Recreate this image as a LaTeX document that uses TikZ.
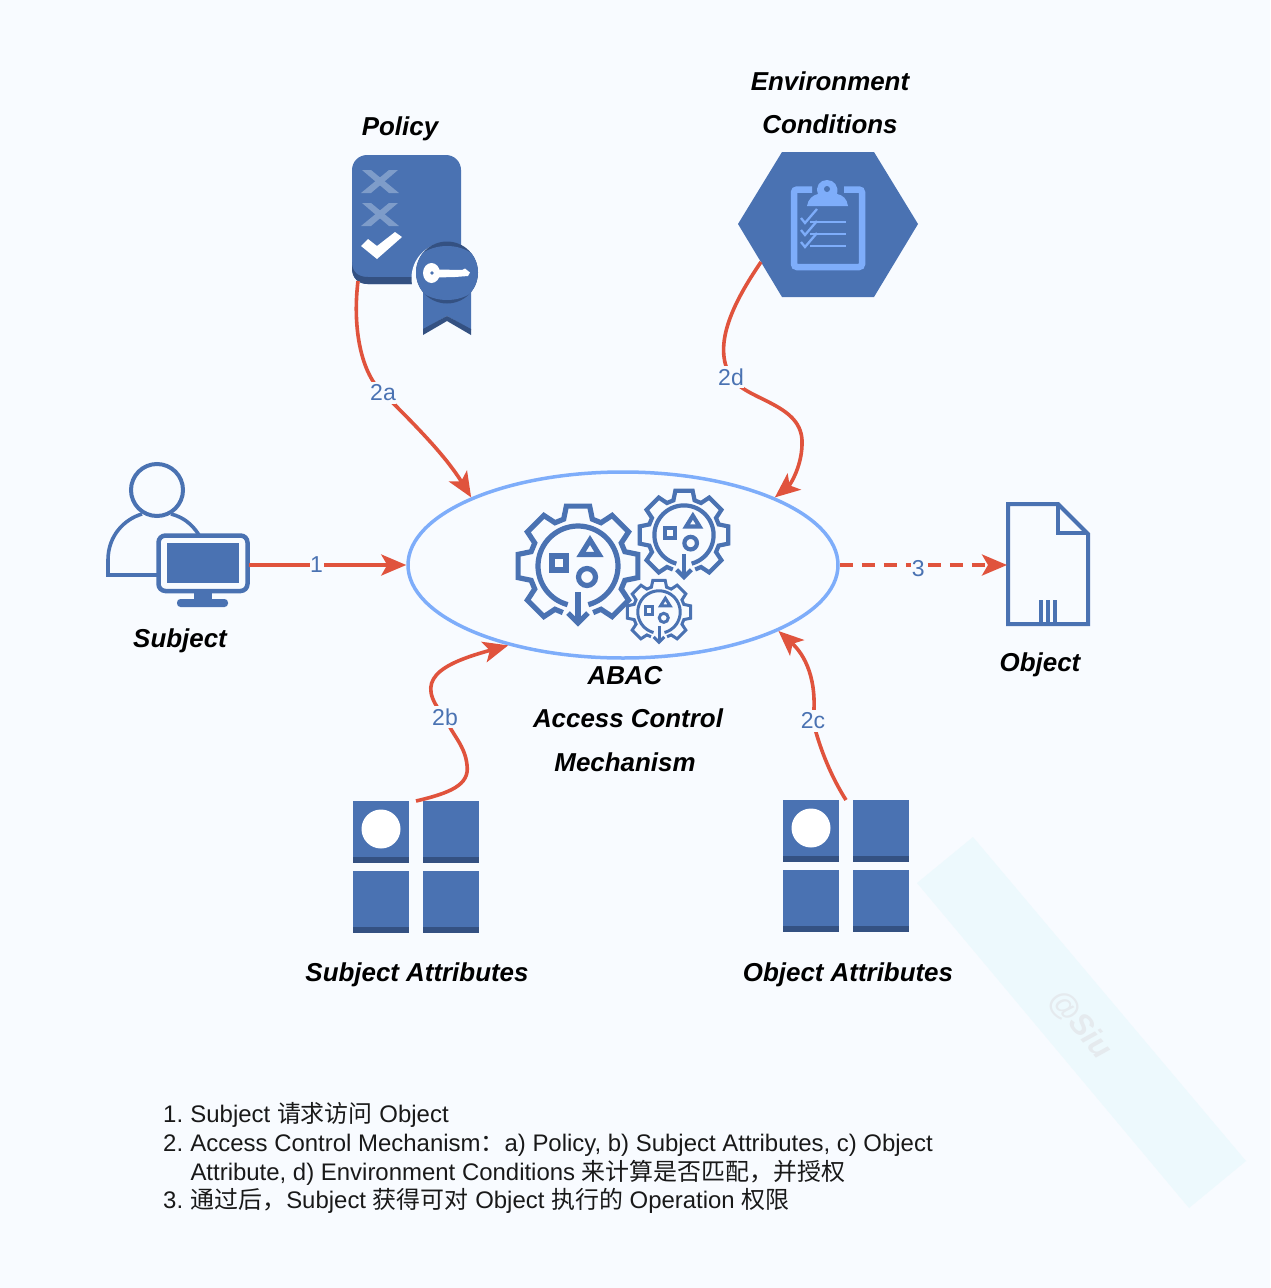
\documentclass[tikz,border=0pt]{standalone}
\usepackage{fontspec}
\setmainfont{Liberation Sans}
\newfontfamily\cjk{Noto Sans CJK SC}
\usetikzlibrary{arrows.meta,shapes.geometric}
\definecolor{pagebg}{HTML}{F8FBFF}
\definecolor{iconblue}{HTML}{4A72B2}
\definecolor{icondark}{HTML}{345182}
\definecolor{lightblue}{HTML}{7EADFA}
\definecolor{linkred}{HTML}{E0533D}
\definecolor{xmark}{HTML}{7E9CC9}
\definecolor{wmband}{HTML}{EDF9FD}
\definecolor{wmtext}{HTML}{E5EAEE}
\newcommand{\zh}[1]{{\cjk #1}}
\newcommand{\gearicon}[4]{%
  \begin{scope}[shift={(#1,#2)},scale=#3,draw=iconblue,line width=#4,line join=miter]
    \draw (108:49) \foreach \a in {135,180,225,270,315,360,405} {
        -- (\a-17:49) -- (\a-11:61) -- (\a+11:61) -- (\a+17:49)
      } -- (432:49);
    \draw plot[domain=105:435,samples=70] (\x:40);
    \draw (-26,-10) rectangle (-12,4);
    \draw (12,-26) -- (3,-11.5) -- (21,-11.5) -- cycle;
    \draw (9,11) circle (8.5);
    \draw (0,26) -- (0,57);
    \draw (-10,47) -- (0,57) -- (10,47);
  \end{scope}}
\newcommand{\attrgrid}[3]{%
  \begin{scope}[shift={(#1,#2)}]
    \foreach \cx/\cy in {0/0,70/0,0/70,70/70} {
      \fill[iconblue] (\cx,\cy) rectangle ++(56,57);
      \fill[icondark] (\cx,\cy+56) rectangle ++(56,6);
    }
    \fill[white] (28,28) circle (19.5);
    \coordinate (#3) at (63,0);
  \end{scope}}
\tikzset{
  heading/.style={font=\fontsize{25.9}{30}\selectfont\bfseries\itshape,text=black,inner sep=0pt,text depth=0pt},
  linklabel/.style={font=\fontsize{23}{26}\selectfont,text=iconblue,fill=pagebg,inner xsep=0.5pt,inner ysep=3pt},
  link/.style={draw=linkred,line width=3.6pt,-{Stealth[length=25pt,width=21pt,inset=6pt]}},
  iconline/.style={draw=iconblue,line width=4pt},
  abacshape/.style={ellipse,draw=lightblue,line width=3.5pt,minimum width=430pt,minimum height=186pt,inner sep=0pt},
  notes/.style={font=\fontsize{23.95}{28.6}\selectfont,align=left,anchor=north west,inner sep=0pt,text=black!90}
}
\begin{document}
\begin{tikzpicture}[x=1pt,y=-1pt]
\useasboundingbox (0,0) rectangle (1270,1288);
\fill[pagebg] (0,0) rectangle (1270,1288);

% watermark
\fill[wmband] (973,837) -- (1246,1161) -- (1189,1208) -- (917,883) -- cycle;
\node[rotate=-50,text=wmtext,font=\fontsize{31}{34}\selectfont\bfseries\itshape] (mark) at (1080,1025) {@Siu};

% central ellipse
\node[abacshape] (abac) at (623,565) {};
\gearicon{578}{566}{1}{5.2pt}
\gearicon{684}{535}{0.74}{4.2pt}
\gearicon{659}{612}{0.53}{3pt}

% Policy
\fill[iconblue,rounded corners=15pt] (352,155) rectangle (461,284);
\fill[icondark] (352,268) .. controls (352,278) and (358,284) .. (368,284) -- (412,284) -- (412,277) -- (368,277) .. controls (358,277) and (352,272) .. (352,262) -- cycle;
\fill[xmark] (362,170) -- (371,170) -- (399,193) -- (389,193) -- cycle;
\fill[xmark] (389,170) -- (398,170) -- (371,193) -- (361,193) -- cycle;
\fill[xmark] (362,203) -- (371,203) -- (399,226) -- (389,226) -- cycle;
\fill[xmark] (389,203) -- (398,203) -- (371,226) -- (361,226) -- cycle;
\fill[white] (361,246) -- (368,239) -- (377,246) -- (395,232) -- (402,237) -- (377,259) -- cycle;
\fill[pagebg] (447,278) circle (35.5);
\fill[iconblue] (423,290) -- (471,290) -- (471,330) -- (447,316) -- (423,330) -- cycle;
\fill[icondark] (423,329) -- (447,316) -- (471,329) -- (471,335) -- (447,321) -- (423,335) -- cycle;
\fill[icondark] (447,272.5) circle (31);
\begin{scope}
  \clip (447,272.5) circle (31);
  \fill[iconblue] (447,273) ellipse (36 and 27);
\end{scope}
\fill[white] (431.5,273) ellipse (8.5 and 10);
\fill[white] (437,269.5) -- (462,270) -- (465,268.5) -- (470,272.5) -- (468,276) -- (455,277) -- (437,277.5) -- cycle;
\fill[iconblue] (432,273) circle (1.9);
\coordinate (policyout) at (358,281);
\node[heading] (policylabel) at (400,126) {Policy};

% Environment
\fill[iconblue] (782,152) -- (874,152) -- (918,224) -- (874,297) -- (782,297) -- (738,224) -- cycle;
\draw[lightblue,line width=6.5pt,rounded corners=3pt] (812,189.5) -- (794,189.5) -- (794,267) -- (862,267) -- (862,189.5) -- (844,189.5);
\fill[lightblue] (807,206) .. controls (808,199) and (813,195) .. (818,194) .. controls (815,186) and (820,180) .. (827,180) .. controls (834,180) and (839,186) .. (837,194) .. controls (843,195) and (847,199) .. (848,206) -- cycle;
\fill[iconblue] (827,189) circle (3);
\foreach \dy in {0,12,24} {
  \draw[lightblue,line width=1.9pt] (810,222+\dy) -- (846,222+\dy);
  \draw[lightblue,line width=2.3pt] (801,218+\dy) -- (805,223+\dy) -- (817,209+\dy);
}
\coordinate (envout) at (761,262);
\node[heading] (envlabelA) at (830,81) {Environment};
\node[heading] (envlabelB) at (830,124) {Conditions};

% Subject
\draw[iconline] (157,490) circle (26);
\draw[draw=iconblue,line width=3.6pt] (158,575) -- (108,575) -- (108,560) .. controls (108,535) and (125,519) .. (142,514);
\draw[draw=iconblue,line width=3.6pt] (171,514) .. controls (183,517) and (192,524) .. (199,535);
\draw[iconline,line width=4.5pt,fill=pagebg,rounded corners=7pt] (158.5,535.5) rectangle (247.5,591);
\fill[iconblue] (167,543) rectangle (239,583);
\fill[iconblue] (194,592) rectangle (212,600);
\fill[iconblue,rounded corners=3.5pt] (177,599) rectangle (228,607);
\coordinate (subjectout) at (249,565);
\node[heading] (subjectlabel) at (180,638) {Subject};

% Object
\draw[iconline,line join=miter] (1008,504) -- (1058,504) -- (1088,534) -- (1088,624) -- (1008,624) -- cycle;
\draw[iconline,line join=miter] (1058,504) -- (1058,533) -- (1088,533);
\fill[iconblue] (1038.5,600) rectangle (1042.5,624);
\fill[iconblue] (1046,600) rectangle (1050,624);
\fill[iconblue] (1053,600) rectangle (1057,624);
\coordinate (objectin) at (1007,565);
\node[heading] (objectlabel) at (1040,662) {Object};

% Attribute grids
\attrgrid{353}{801}{subjattr}
\attrgrid{783}{800}{objattr}
\node[heading] (subjattrlabel) at (417,972) {Subject Attributes};
\node[heading] (objattrlabel) at (848,972) {Object Attributes};

% ABAC label
\node[heading] (abacA) at (625,675) {ABAC};
\node[heading] (abacB) at (628,718) {Access Control};
\node[heading] (abacC) at (625,762) {Mechanism};

% connectors
\draw[link] (subjectout) -- node[linklabel,pos=0.43] (l1) {1} (abac.west);
\draw[link,dashed,dash pattern=on 13pt off 9pt] (abac.east) -- node[linklabel,pos=0.47,yshift=-4pt] (l3) {3} (objectin);
\draw[link] (policyout) .. controls (352,330) and (362,375) .. (383,393) .. controls (415,425) and (445,455) .. (abac.156);
\node[linklabel] (l2a) at (383,393) {2a};
\draw[link] (envout) .. controls (735,300) and (711,345) .. (731,377) .. controls (745,400) and (800,403) .. (802,440) .. controls (803,465) and (790,485) .. (abac.24);
\node[linklabel] (l2d) at (731,377) {2d};
\draw[link] (subjattr) .. controls (450,793) and (470,785) .. (467,765) .. controls (465,745) and (452,735) .. (445,717) .. controls (412,680) and (440,664) .. (abac.215.5);
\node[linklabel] (l2b) at (445,717) {2b};
\draw[link] (objattr) .. controls (832,778) and (820,750) .. (813,721) .. controls (818,680) and (805,655) .. (abac.-23.4);
\node[linklabel] (l2c) at (813,721) {2c};

% notes
\node[notes] (notes) at (163,1102.5) {%
1.\hspace{7.3pt}Subject \zh{请求访问} Object\\
2.\hspace{7.3pt}Access Control Mechanism\zh{：}a) Policy, b) Subject Attributes, c) Object\\
\hspace{27.3pt}Attribute, d) Environment Conditions \zh{来计算是否匹配，并授权}\\
3.\hspace{7.3pt}\zh{通过后，}Subject \zh{获得可对} Object \zh{执行的} Operation \zh{权限}};
\end{tikzpicture}
\end{document}
